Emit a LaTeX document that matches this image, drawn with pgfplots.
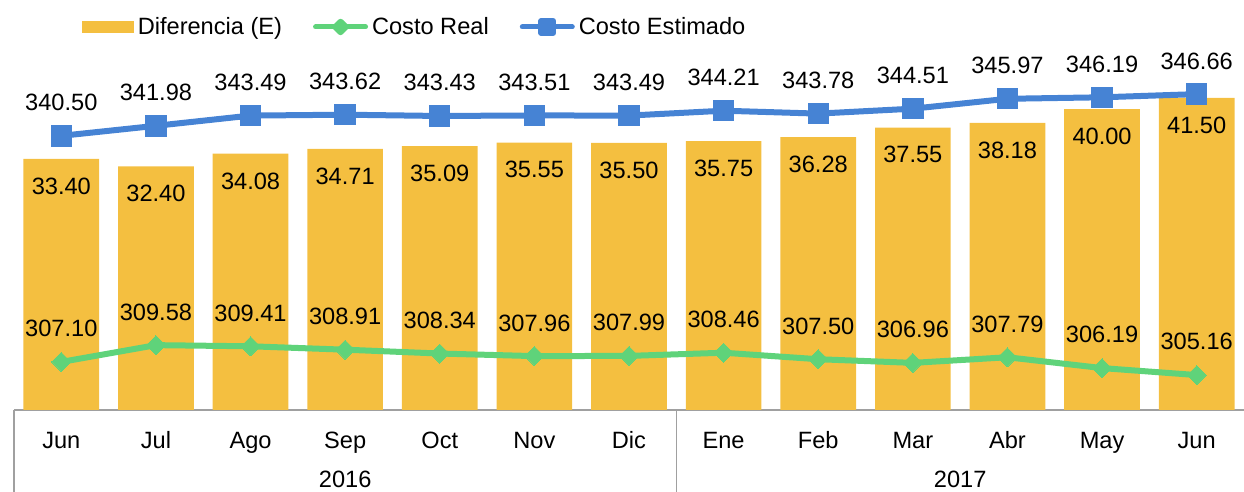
\documentclass[border=0pt]{standalone}
\usepackage{fontspec}
\setmainfont{Liberation Sans}
\usepackage{pgfplots}
\pgfplotsset{compat=1.18}
\definecolor{barc}{RGB}{244,191,64}
\definecolor{realc}{RGB}{95,211,122}
\definecolor{estc}{RGB}{70,131,212}
\definecolor{axc}{RGB}{160,160,160}
\newcommand\lblfont{\fontsize{11.8}{14}\selectfont}

\begin{document}
\begin{tikzpicture}
\pgfplotsset{common/.style={
  width=615pt, height=169.25pt, scale only axis,
  xmin=-0.5, xmax=12.5, clip=false,
}}
\begin{axis}[common, ymin=0, ymax=45,
  axis y line=none, axis x line*=bottom,
  x axis line style={draw=axc, line width=0.75pt},
  xtick={0,...,12},
  xticklabels={Jun,Jul,Ago,Sep,Oct,Nov,Dic,Ene,Feb,Mar,Abr,May,Jun},
  major tick length=0pt,
  xticklabel style={font=\lblfont, anchor=base, yshift=-19.2pt},
  ybar, bar width=0.8,
  nodes near coords={\pgfmathprintnumber[fixed,fixed zerofill,precision=2,assume math mode=true]{\pgfplotspointmeta}},
  nodes near coords style={font=\lblfont, anchor=base, yshift=-17.7pt, text=black},
]
\addplot[fill=barc, draw=none] coordinates {
(0,33.40) (1,32.40) (2,34.08) (3,34.71) (4,35.09) (5,35.55) (6,35.50)
(7,35.75) (8,36.28) (9,37.55) (10,38.18) (11,40.00) (12,41.50)};
\draw[axc, line width=0.75pt] (axis cs:-0.5,0) -- ++(0pt,-45pt);
\draw[axc, line width=0.75pt] (axis cs:6.5,0) -- ++(0pt,-45pt);
\node[font=\lblfont, anchor=base] at ([yshift=-39pt]axis cs:3,0) {2016};
\node[font=\lblfont, anchor=base] at ([yshift=-39pt]axis cs:9.5,0) {2017};
\end{axis}

\begin{axis}[common, ymin=300, ymax=350, hide axis,
  legend columns=3,
  legend style={at={(axis description cs:0.05528,1.1315)}, anchor=west,
    draw=none, fill=none, inner sep=0pt, outer sep=0pt, font=\lblfont,
    nodes={inner sep=0pt},
    /tikz/every odd column/.append style={column sep=2pt},
    /tikz/every even column/.append style={column sep=15.5pt}},
  nodes near coords={\pgfmathprintnumber[fixed,fixed zerofill,precision=2,assume math mode=true]{\pgfplotspointmeta}},
  nodes near coords style={font=\lblfont, anchor=base, yshift=12.55pt, text=black},
]
\addlegendimage{legend image code/.code={\fill[barc] (0pt,-2.75pt) rectangle (25.5pt,2.75pt);}}
\addlegendentry{Diferencia (E)}
\addplot[realc, line width=3pt, line join=round, mark=square*, mark size=3.36pt,
  mark options={rotate=45, line width=0pt},
  legend image code/.code={
    \draw[realc, line width=2.5pt, line cap=round] (1.25pt,0pt) -- (26.25pt,0pt);
    \fill[realc] (13.75pt,2.6pt) -- (16.35pt,0pt) -- (13.75pt,-2.6pt) -- (11.15pt,0pt) -- cycle;}]
coordinates {
(0,307.10) (1,309.58) (2,309.41) (3,308.91) (4,308.34) (5,307.96) (6,307.99)
(7,308.46) (8,307.50) (9,306.96) (10,307.79) (11,306.19) (12,305.16)};
\addlegendentry{Costo Real}
\addplot[estc, line width=3pt, line join=round, mark=square*, mark size=5.1pt,
  mark options={line width=0pt},
  legend image code/.code={
    \draw[estc, line width=2.5pt, line cap=round] (1.25pt,0pt) -- (26.25pt,0pt);
    \fill[estc] (10.75pt,-3pt) rectangle (16.75pt,3pt);}]
coordinates {
(0,340.50) (1,341.98) (2,343.49) (3,343.62) (4,343.43) (5,343.51) (6,343.49)
(7,344.21) (8,343.78) (9,344.51) (10,345.97) (11,346.19) (12,346.66)};
\addlegendentry{Costo Estimado}
\end{axis}
\pgfresetboundingbox
\path[use as bounding box] (-7pt,-41pt) rectangle (615pt,205pt);
\end{tikzpicture}
\end{document}
